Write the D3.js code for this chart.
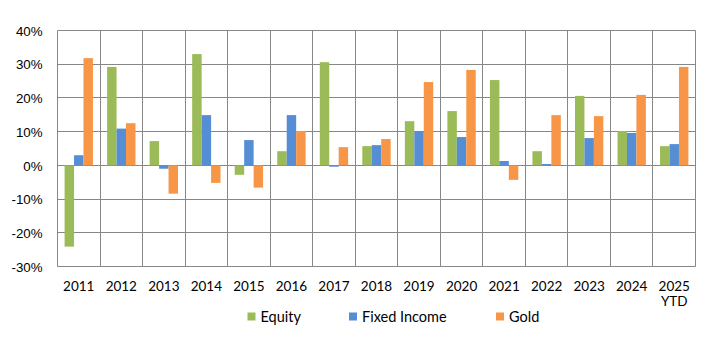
<!DOCTYPE html>
<html><head><meta charset="utf-8">
<script src="https://cdn.jsdelivr.net/npm/d3@7/dist/d3.min.js"></script>
<style>body{margin:0;background:#fff}svg{display:block}</style>
</head><body>
<script>
const years = ["2011","2012","2013","2014","2015","2016","2017","2018","2019","2020","2021","2022","2023","2024","2025"];
const yearSub = ["","","","","","","","","","","","","","","YTD"];
const seriesNames = ["Equity","Fixed Income","Gold"];
const equity = [-24.1,29.2,7.2,33.0,-2.8,4.2,30.6,5.7,13.1,16.1,25.3,4.2,20.6,10.2,5.7];
const fixedIncome = [3.0,10.9,-1.0,14.9,7.5,14.9,-0.4,6.0,10.1,8.4,1.3,0.4,8.1,9.6,6.3];
const gold = [31.8,12.5,-8.4,-5.2,-6.6,10.2,5.4,7.8,24.7,28.3,-4.3,14.9,14.6,20.9,29.2];
const yTicks = [-30,-20,-10,0,10,20,30,40];
const colors = ["#9BBB59","#558ED5","#F79646"];

const W=719,H=339;
const L=57.5,R=695.5,T=30.5,B=266.5;
const svg=d3.select("body").append("svg").attr("width",W).attr("height",H);

const x=d3.scaleBand().domain(years).range([L,R]).padding(0);
const cw=x.bandwidth();
const bw=cw/4.5;
const xs=d3.scaleBand().domain(seriesNames).range([(cw-3*bw)/2,(cw+3*bw)/2]).padding(0);
const y=d3.scaleLinear().domain([-30,40]).range([B,T]);

const grid=svg.append("g").attr("stroke","#878787").attr("stroke-width",1).attr("fill","none");
yTicks.forEach(t=>{grid.append("line").attr("x1",L).attr("x2",R).attr("y1",Math.round(y(t)-0.5)+0.5).attr("y2",Math.round(y(t)-0.5)+0.5);});
years.forEach(yr=>{const xx=Math.round(x(yr)-0.5)+0.5;grid.append("line").attr("x1",xx).attr("x2",xx).attr("y1",T).attr("y2",B);});
grid.append("line").attr("x1",R).attr("x2",R).attr("y1",T).attr("y2",B);

const data=[equity,fixedIncome,gold];
const bars=svg.append("g");
years.forEach((yr,i)=>{
  seriesNames.forEach((s,j)=>{
    const v=data[j][i];
    bars.append("rect")
      .attr("x",x(yr)+xs(s)).attr("width",xs.bandwidth())
      .attr("y",y(Math.max(0,v))).attr("height",Math.abs(y(v)-y(0)))
      .attr("fill",colors[j]);
  });
});

const yAxis=d3.axisLeft(y).tickValues(yTicks).tickFormat(d=>d+"%").tickSize(0).tickPadding(15);
const ya=svg.append("g").attr("transform",`translate(${L},0)`).call(yAxis);
ya.select(".domain").remove();
ya.selectAll("text").attr("font-family","Liberation Sans, Arial, sans-serif").attr("font-size",13.3).attr("fill","#000").attr("dy","0.35em");

const xl=svg.append("g").attr("font-family","Lato, sans-serif").attr("font-size",13.5).attr("fill","#000").attr("text-anchor","middle");
years.forEach((yr,i)=>{
  xl.append("text").attr("x",x(yr)+cw/2).attr("y",290.5).text(yr);
  if(yearSub[i]) xl.append("text").attr("x",x(yr)+cw/2).attr("y",306).text(yearSub[i]);
});

const legX=[247.5,349,496];
const lg=svg.append("g").attr("font-family","Lato, sans-serif").attr("font-size",14.5).attr("fill","#000");
seriesNames.forEach((s,j)=>{
  lg.append("rect").attr("x",legX[j]).attr("y",312.5).attr("width",8).attr("height",8).attr("fill",colors[j]);
  lg.append("text").attr("x",legX[j]+13).attr("y",321.5).text(s);
});
</script>
</body></html>
